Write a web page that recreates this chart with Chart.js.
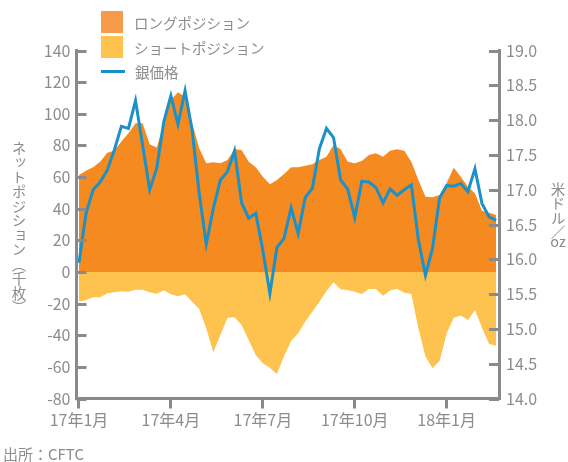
<!DOCTYPE html>
<html>
<head>
<meta charset="utf-8">
<script src="https://cdn.jsdelivr.net/npm/chart.js@4/dist/chart.umd.min.js"></script>
<style>
  html, body { margin: 0; padding: 0; background: #ffffff; }
  #wrap { position: relative; width: 568px; height: 462px; overflow: hidden;
          font-family: 'Noto Sans CJK JP', 'Noto Sans', sans-serif; color: #8c8c8c; }
  #c { position: absolute; left: 0; top: 0; }
  .lg-item { position: absolute; left: 101px; height: 24px; display: flex; align-items: center; font-size: 14.5px; white-space: nowrap; }
  .lg-sw { width: 22px; height: 22px; margin-right: 11px; }
  .lg-ln { width: 24px; height: 3px; margin-right: 10px; }
  .vt { position: absolute; writing-mode: vertical-rl; font-size: 14.5px; line-height: 1; white-space: nowrap; }
  .tcu { text-combine-upright: all; }
  #src { position: absolute; left: 3px; top: 446px; font-size: 15px; line-height: 1; }
</style>
</head>
<body>
<div id="wrap">
  <canvas id="c" width="568" height="462"></canvas>
  <div id="legend"></div>
  <div class="vt" style="left:11px; top:141px;">ネットポジション︵千枚︶</div>
  <div class="vt" style="left:550px; top:182px;">米ドル／<span class="tcu" style="margin-top:-7px;">oz</span></div>
  <div id="src">出所：CFTC</div>
</div>
<script>
// Weekly report dates (categories)
const weeks = [
  '2017-01-03','2017-01-10','2017-01-17','2017-01-24','2017-01-31',
  '2017-02-07','2017-02-14','2017-02-21','2017-02-28',
  '2017-03-07','2017-03-14','2017-03-21','2017-03-28',
  '2017-04-04','2017-04-11','2017-04-18','2017-04-25',
  '2017-05-02','2017-05-09','2017-05-16','2017-05-23','2017-05-30',
  '2017-06-06','2017-06-13','2017-06-20','2017-06-27',
  '2017-07-04','2017-07-11','2017-07-18','2017-07-25',
  '2017-08-01','2017-08-08','2017-08-15','2017-08-22','2017-08-29',
  '2017-09-05','2017-09-12','2017-09-19','2017-09-26',
  '2017-10-03','2017-10-10','2017-10-17','2017-10-24','2017-10-31',
  '2017-11-07','2017-11-14','2017-11-21','2017-11-28',
  '2017-12-05','2017-12-12','2017-12-19','2017-12-26',
  '2018-01-02','2018-01-09','2018-01-16','2018-01-23','2018-01-30',
  '2018-02-06','2018-02-13','2018-02-20'
];

// Long positions (thousand contracts)
const longPos = [
  61.3, 64.0, 66.2, 69.7, 75.4, 76.7, 82.4, 87.7, 94.0, 94.0,
  80.7, 78.6, 94.0, 108.7, 113.6, 110.8, 94.0, 78.2, 68.7, 69.3,
  68.7, 70.8, 77.6, 77.1, 69.7, 66.2, 60.2, 55.4, 58.2, 61.9,
  66.2, 66.2, 67.2, 68.1, 70.8, 72.9, 80.3, 77.6, 69.7, 68.7,
  70.2, 74.0, 75.0, 72.9, 76.7, 77.6, 76.7, 69.7, 58.2, 47.6,
  47.2, 48.7, 56.3, 65.9, 60.2, 53.9, 49.7, 38.7, 37.5, 36.0
];

// Short positions (thousand contracts)
const shortPos = [
  -18.8, -17.7, -16.0, -16.0, -13.5, -12.8, -12.2, -12.5, -11.2, -11.2,
  -12.8, -13.7, -11.6, -14.1, -15.4, -14.1, -18.8, -23.4, -35.6, -50.8,
  -39.8, -28.9, -28.6, -33.5, -43.0, -52.5, -57.7, -60.5, -64.5, -53.1,
  -43.6, -38.7, -31.4, -25.1, -18.8, -12.0, -6.5, -10.9, -11.4, -12.5,
  -13.9, -10.7, -10.7, -15.0, -11.8, -10.6, -13.1, -13.9, -35.6, -53.5,
  -60.9, -56.3, -38.7, -28.9, -27.6, -30.3, -24.0, -35.2, -45.5, -46.6
];

// Silver price (USD/oz)
const silver = [
  15.95, 16.66, 17.00, 17.11, 17.28, 17.57, 17.91, 17.88, 18.28, 17.64,
  17.00, 17.31, 17.98, 18.35, 17.94, 18.42, 17.86, 16.95, 16.22, 16.73,
  17.14, 17.26, 17.56, 16.81, 16.59, 16.66, 16.13, 15.51, 16.17, 16.30,
  16.74, 16.37, 16.89, 17.02, 17.59, 17.88, 17.75, 17.14, 17.01, 16.60,
  17.12, 17.11, 17.03, 16.81, 17.01, 16.92, 17.00, 17.07, 16.28, 15.77,
  16.16, 16.88, 17.06, 17.05, 17.09, 16.97, 17.30, 16.80, 16.61, 16.56
];

// X tick labels and the weeks they mark
const xTickLabels = ['17年1月', '17年4月', '17年7月', '17年10月', '18年1月'];
const xTickWeeks = ['2017-01-03', '2017-04-04', '2017-07-04', '2017-10-03', '2018-01-02'];

const seriesNames = ['ロングポジション', 'ショートポジション', '銀価格'];

const GRAY = '#8c8c8c';
const AXIS = '#8a8a8a';
const C_LONG = '#F58A21';
const C_SHORT = '#FDC34E';
const C_SILVER = '#1A91C9';

Chart.defaults.font.family = "'Noto Sans CJK JP', 'Noto Sans', sans-serif";
Chart.defaults.color = GRAY;

const pts = arr => arr.map((v, i) => ({ x: i, y: v }));
const tickIdx = xTickWeeks.map(w => weeks.indexOf(w));

const innerTicks = {
  id: 'innerTicks',
  afterDraw(chart) {
    const ctx = chart.ctx, a = chart.chartArea;
    ctx.save();
    ctx.strokeStyle = AXIS;
    ctx.lineWidth = 3;
    ['y', 'y2'].forEach(id => {
      const s = chart.scales[id];
      s.ticks.forEach(t => {
        const py = Math.round(s.getPixelForValue(t.value)) + 0.5;
        ctx.beginPath();
        if (id === 'y') { ctx.moveTo(a.left, py); ctx.lineTo(a.left + 10, py); }
        else { ctx.moveTo(a.right - 10, py); ctx.lineTo(a.right, py); }
        ctx.stroke();
      });
    });
    ctx.restore();
  }
};

const chart = new Chart(document.getElementById('c'), {
  type: 'line',
  data: {
    datasets: [
      { label: seriesNames[2], data: pts(silver), yAxisID: 'y2', borderColor: C_SILVER,
        borderWidth: 3, pointRadius: 0, fill: false, tension: 0, order: 0 },
      { label: seriesNames[0], data: pts(longPos), yAxisID: 'y', backgroundColor: C_LONG,
        borderColor: 'rgba(0,0,0,0)', borderWidth: 0, pointRadius: 0, fill: 'origin', tension: 0, order: 2 },
      { label: seriesNames[1], data: pts(shortPos), yAxisID: 'y', backgroundColor: C_SHORT,
        borderColor: 'rgba(0,0,0,0)', borderWidth: 0, pointRadius: 0, fill: 'origin', tension: 0, order: 1 }
    ]
  },
  options: {
    responsive: false,
    animation: false,
    devicePixelRatio: 1,
    layout: { padding: { top: 50.5, left: 0, right: 0, bottom: 0 } },
    plugins: { legend: { display: false }, tooltip: { enabled: false } },
    scales: {
      x: {
        type: 'linear',
        min: -0.35,
        max: 59.4,
        afterBuildTicks: s => { s.ticks = tickIdx.map(v => ({ value: v })); },
        afterFit: s => { s.height = 63.5; },
        ticks: { font: { size: 16 }, color: GRAY, padding: 2, maxRotation: 0,
                 callback: (v, i) => xTickLabels[i] },
        grid: { drawOnChartArea: false, drawTicks: true, tickLength: 10, color: AXIS, lineWidth: 3 },
        border: { display: true, color: AXIS, width: 3 }
      },
      y: {
        position: 'left',
        min: -80, max: 140,
        ticks: { stepSize: 20, font: { size: 16 }, color: GRAY, padding: 6 },
        afterFit: s => { s.width = 76.5; },
        grid: { drawOnChartArea: false, drawTicks: false },
        border: { display: true, color: AXIS, width: 3 }
      },
      y2: {
        position: 'right',
        min: 14, max: 19,
        ticks: { stepSize: 0.5, font: { size: 16 }, color: GRAY, padding: 7,
                 callback: v => v.toFixed(1) },
        afterFit: s => { s.width = 69; },
        grid: { drawOnChartArea: false, drawTicks: false },
        border: { display: true, color: AXIS, width: 3 }
      }
    }
  },
  plugins: [innerTicks]
});

// HTML legend built from the dataset definitions
(function () {
  const lg = document.getElementById('legend');
  const items = [
    { ds: chart.data.datasets[1], top: 10, kind: 'sw', color: '#F79B4B' },
    { ds: chart.data.datasets[2], top: 35, kind: 'sw', color: C_SHORT },
    { ds: chart.data.datasets[0], top: 59, kind: 'ln', color: C_SILVER }
  ];
  items.forEach(it => {
    const d = document.createElement('div');
    d.className = 'lg-item';
    d.style.top = it.top + 'px';
    const m = document.createElement('span');
    m.className = it.kind === 'sw' ? 'lg-sw' : 'lg-ln';
    m.style.background = it.color;
    const t = document.createElement('span');
    t.textContent = it.ds.label;
    d.appendChild(m); d.appendChild(t);
    lg.appendChild(d);
  });
})();
</script>
</body>
</html>
